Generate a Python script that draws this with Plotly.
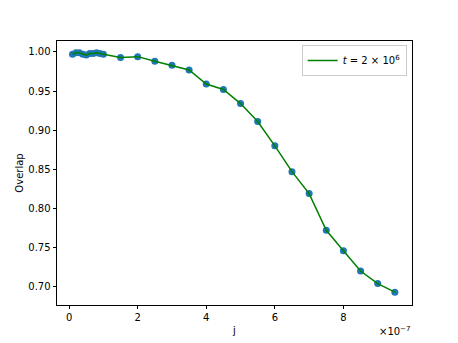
import plotly.graph_objects as go

# overlap vs j (j in units of 1e-7)
j_scaled = [0.1, 0.2, 0.3, 0.4, 0.5, 0.6, 0.7, 0.8, 0.9, 1.0,
            1.5, 2.0, 2.5, 3.0, 3.5, 4.0, 4.5, 5.0, 5.5, 6.0,
            6.5, 7.0, 7.5, 8.0, 8.5, 9.0, 9.5]
overlap = [0.997, 0.999, 0.999, 0.997, 0.996, 0.998, 0.998, 0.999, 0.998, 0.997,
           0.993, 0.994, 0.988, 0.983, 0.977, 0.959, 0.952, 0.934, 0.911, 0.880,
           0.847, 0.819, 0.772, 0.746, 0.720, 0.704, 0.693]
j = [v * 1e-7 for v in j_scaled]

x_ticks = [0, 2, 4, 6, 8]
y_ticks = [0.70, 0.75, 0.80, 0.85, 0.90, 0.95, 1.00]

fig = go.Figure()

# scatter points underneath, green line on top
fig.add_trace(go.Scatter(
    x=j, y=overlap, mode="markers",
    marker=dict(color="#1f77b4", size=7),
    showlegend=False
))
fig.add_trace(go.Scatter(
    x=j, y=overlap, mode="lines",
    line=dict(color="green", width=1.5),
    name="<i>t</i> = 2 × 10<sup>6</sup>"
))

axis_style = dict(
    showgrid=False, zeroline=False, automargin=False,
    showline=True, linecolor="black", linewidth=0.8, mirror=True,
    ticks="outside", ticklen=3.5, tickwidth=0.8, tickcolor="black",
    tickfont=dict(size=10, color="black"),
)

fig.update_xaxes(
    range=[-0.353e-7, 10.0e-7],
    tickvals=[v * 1e-7 for v in x_ticks],
    ticktext=[str(v) for v in x_ticks],
    title=dict(text="j", font=dict(size=10, color="black"), standoff=4),
    **axis_style
)
fig.update_yaxes(
    range=[0.6766, 1.014],
    tickvals=y_ticks,
    ticktext=["%.2f" % v for v in y_ticks],
    title=dict(text="Overlap", font=dict(size=10, color="black"), standoff=2),
    **axis_style
)

fig.add_annotation(
    text="×10<sup>−7</sup>", xref="paper", yref="paper",
    x=1.0, y=-0.07, xanchor="right", yanchor="top",
    showarrow=False, font=dict(size=10, color="black")
)

# the page body has an 8px margin, so the figure is 8px smaller than the window
fig.update_layout(
    width=450, height=335,
    margin=dict(l=49, r=46, t=33, b=38),
    paper_bgcolor="white", plot_bgcolor="white",
    font=dict(family="DejaVu Sans", size=10, color="black"),
    legend=dict(
        x=0.985, y=0.985, xanchor="right", yanchor="top",
        bgcolor="rgba(255,255,255,0.8)", bordercolor="#cccccc", borderwidth=1,
        font=dict(size=10), itemwidth=30
    ),
)

fig.write_html("out.html")
